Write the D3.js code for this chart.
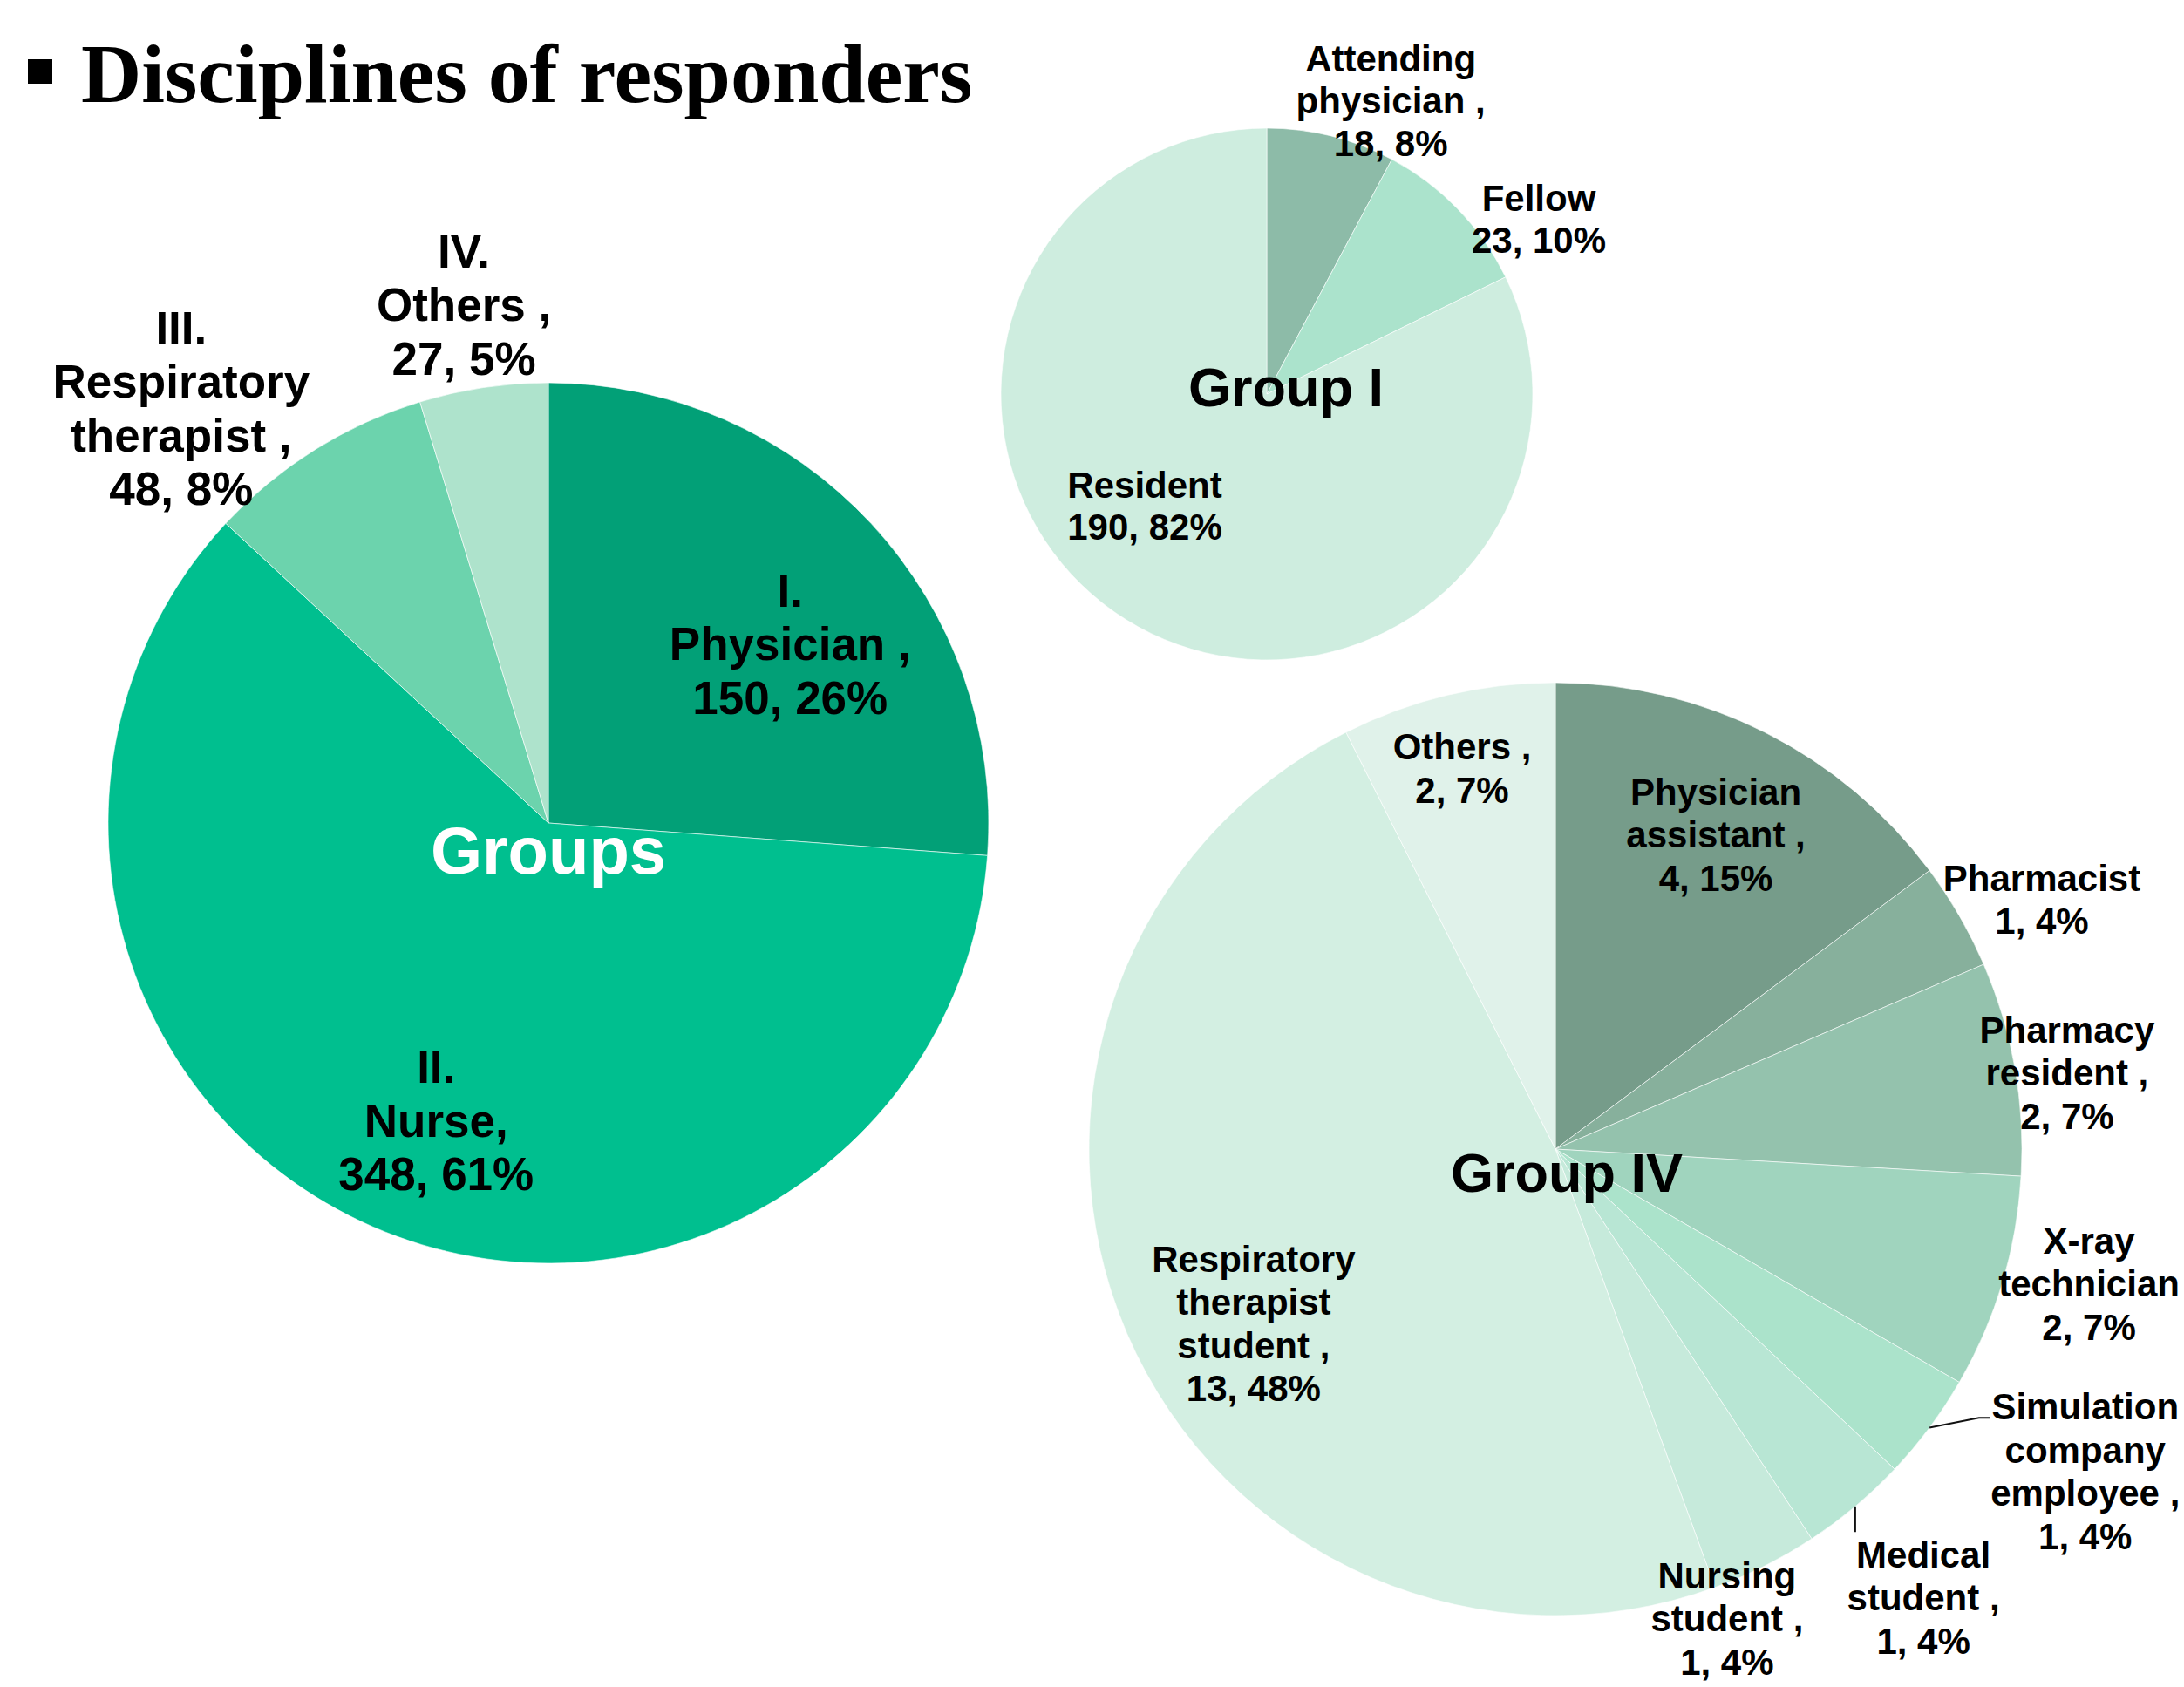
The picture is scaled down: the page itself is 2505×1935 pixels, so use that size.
<!DOCTYPE html>
<html>
<head>
<meta charset="utf-8">
<script src="https://cdn.jsdelivr.net/npm/d3@7"></script>
<style>
  html, body { margin: 0; padding: 0; background: #ffffff; }
  svg { display: block; }
</style>
</head>
<body>
<svg id="chart" width="2505" height="1935"></svg>
<script>
// ---- data ----
const mainCategories = ["I.\nPhysician ,", "II.\nNurse,", "III.\nRespiratory\ntherapist ,", "IV.\nOthers ,"];
const mainValues = [150, 348, 48, 27];

const groupICategories = ["Attending\nphysician ,", "Fellow", "Resident"];
const groupIValues = [18, 23, 190];

const groupIVCategories = [
  "Physician\nassistant ,", "Pharmacist", "Pharmacy\nresident ,", "X-ray\ntechnician",
  "Simulation\ncompany\nemployee ,", "Medical\nstudent ,", "Nursing\nstudent ,",
  "Respiratory\ntherapist\nstudent ,", "Others ,"
];
const groupIVValues = [4, 1, 2, 2, 1, 1, 1, 13, 2];

// ---- styling ----
const mainColors = ["#02a077", "#00bf8f", "#6cd3ad", "#aee3cc"];
const groupIColors = ["#8dbba8", "#abe3cc", "#ceeddf"];
const groupIVColors = ["#769c8a", "#87b09c", "#94c2ad", "#a0d4be", "#abe3cb", "#b8e6d4", "#c6eadb", "#d3efe2", "#e0f2ea"];

// label block centres, in units of the pie radius from the pie centre
const mainLabelPos = [[0.549, -0.408], [-0.255, 0.675], [-0.834, -0.943], [-0.192, -1.178]];
const groupILabelPos = [[0.466, -1.105], [1.023, -0.659], [-0.459, 0.420]];
const groupIVLabelPos = [
  [0.344, -0.675], [1.043, -0.536], [1.097, -0.164], [1.144, 0.288],
  [1.136, 0.690], [0.789, 0.961], [0.368, 1.006], [-0.647, 0.374], [-0.200, -0.817]
];
// leader lines: slice index -> polyline end points (radius units)
const groupIVLeaders = [
  { index: 4, points: [[0.908, 0.576], [0.931, 0.576]] },
  { index: 5, points: [[null, 0.821]] }
];

const FONT = "'Liberation Sans', Arial, Helvetica, sans-serif";
const svg = d3.select("#chart");

// ---- title ----
svg.append("rect").attr("x", 32).attr("y", 68).attr("width", 28).attr("height", 28).attr("fill", "#000");
svg.append("text")
  .attr("x", 93).attr("y", 117)
  .attr("font-family", "'Liberation Serif', 'Times New Roman', serif")
  .attr("font-weight", "bold")
  .attr("font-size", 96)
  .attr("fill", "#000")
  .text("Disciplines of responders");

function drawPie(opts) {
  const { cx, cy, r, categories, values, colors, labelPos, fontSize, lineHeight, title, titleSize, titleColor, titleOffset, leaders } = opts;
  const total = d3.sum(values);
  const pie = d3.pie().sort(null).value(d => d);
  const arcs = pie(values);
  const arc = d3.arc().innerRadius(0).outerRadius(r);

  const g = svg.append("g").attr("transform", `translate(${cx},${cy})`);

  g.selectAll("path.slice")
    .data(arcs)
    .join("path")
    .attr("class", "slice")
    .attr("d", arc)
    .attr("fill", (d, i) => colors[i])
    .attr("stroke", "#ffffff")
    .attr("stroke-opacity", 0.6)
    .attr("stroke-width", 1);

  if (title) {
    g.append("text")
      .attr("x", titleOffset[0]).attr("y", titleOffset[1] + titleSize * 0.36)
      .attr("text-anchor", "middle")
      .attr("font-family", FONT).attr("font-weight", "bold")
      .attr("font-size", titleSize)
      .attr("fill", titleColor)
      .text(title);
  }

  // leader lines from the slice edge to the label
  (leaders || []).forEach(ld => {
    const a = arcs[ld.index];
    const mid = (a.startAngle + a.endAngle) / 2;
    const start = [Math.sin(mid) * r, -Math.cos(mid) * r];
    const pts = [start].concat(ld.points.map(p => [p[0] === null ? start[0] : p[0] * r, p[1] * r]));
    g.append("path")
      .attr("d", d3.line()(pts))
      .attr("fill", "none")
      .attr("stroke", "#111")
      .attr("stroke-width", 2);
  });

  arcs.forEach((a, i) => {
    const pct = Math.round(values[i] / total * 100);
    const lines = categories[i].split("\n").concat([`${values[i]}, ${pct}%`]);
    const [fx, fy] = labelPos[i];
    const lx = fx * r, ly = fy * r;
    const t = g.append("text")
      .attr("text-anchor", "middle")
      .attr("font-family", FONT).attr("font-weight", "bold")
      .attr("font-size", fontSize)
      .attr("fill", "#000");
    lines.forEach((line, k) => {
      t.append("tspan")
        .attr("x", lx)
        .attr("y", ly + (k - (lines.length - 1) / 2) * lineHeight + fontSize * 0.36)
        .text(line);
    });
  });
}

drawPie({
  cx: 629, cy: 944, r: 505,
  categories: mainCategories, values: mainValues, colors: mainColors,
  labelPos: mainLabelPos, fontSize: 53, lineHeight: 61.5,
  title: "Groups", titleSize: 76, titleColor: "#ffffff", titleOffset: [0, 31]
});

drawPie({
  cx: 1453, cy: 452, r: 305,
  categories: groupICategories, values: groupIValues, colors: groupIColors,
  labelPos: groupILabelPos, fontSize: 42, lineHeight: 48.5,
  title: "Group I", titleSize: 63, titleColor: "#000000", titleOffset: [22, -9]
});

drawPie({
  cx: 1784, cy: 1318, r: 535,
  categories: groupIVCategories, values: groupIVValues, colors: groupIVColors,
  labelPos: groupIVLabelPos, fontSize: 42, lineHeight: 49.5,
  title: "Group IV", titleSize: 63, titleColor: "#000000", titleOffset: [13, 26],
  leaders: groupIVLeaders
});
</script>
</body>
</html>
